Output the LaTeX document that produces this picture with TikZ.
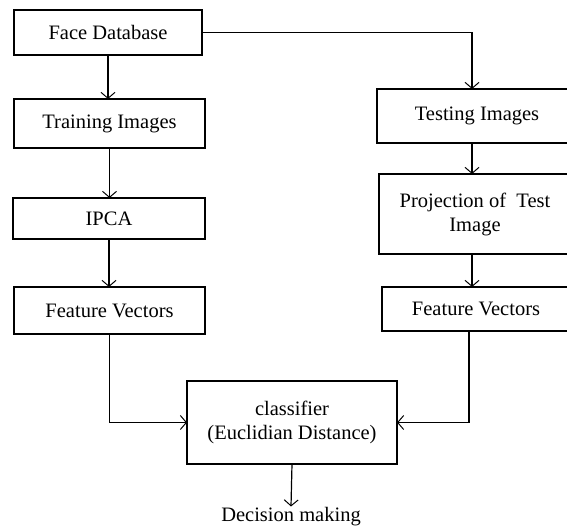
\documentclass[tikz,border=0pt]{standalone}
\usepackage{fontspec}
\setmainfont{Liberation Serif}
\usetikzlibrary{arrows.meta}
\usetikzlibrary{positioning}

\tikzset{
    blockbox/.style={draw, line width=1.2pt, rectangle, inner sep=0pt, outer sep=0pt,
        align=center, font=\fontsize{20.5}{24}\selectfont},
    flowline/.style={line width=1.2pt, -{Straight Barb[length=6pt,width=14pt,line width=1pt]}}
}

\begin{document}
\begin{tikzpicture}[x=1pt, y=1pt]
            % Page
            \useasboundingbox (0,0) rectangle (567,-529);
            \clip (0,0) rectangle (567,-529);
            
            % Training side
            \node[blockbox, minimum width=188pt, minimum height=45pt] (facedb) at (108,-32.5) {Face Database};
            \node[blockbox, minimum width=191pt, minimum height=49pt] (train) at (109.5,-123.5) {Training Images};
            \node[blockbox, minimum width=192pt, minimum height=41pt] (ipca) at (109,-218.5) {IPCA};
            \node[blockbox, minimum width=191pt, minimum height=47pt] (featL) at (109.5,-310.5) {Feature Vectors};
            
            % Testing side
            \node[blockbox, minimum width=200pt, minimum height=54pt] (test) at (477,-116) {Testing Images};
            \node[blockbox, minimum width=192pt, minimum height=80pt] (proj) at (475,-214) {Projection of\ \ Test\\Image};
            \node[blockbox, minimum width=188pt, minimum height=44pt] (featR) at (476,-309) {Feature Vectors};
            
            % Classifier
            \node[blockbox, minimum width=210pt, minimum height=83pt] (clf) at (292,-422.5) {classifier\\(Euclidian Distance)};
            \node[font=\fontsize{20.5}{24}\selectfont, inner sep=1pt] (decision) at (291,-517) {Decision making};
            
            % Arrows
            \draw[flowline] (facedb.south) -- (facedb.south |- train.north);
            \draw[flowline] (train.south) -- (train.south |- ipca.north);
            \draw[flowline] (ipca.south) -- (ipca.south |- featL.north);
            \draw[flowline] (facedb.east) -| ([xshift=-5pt]test.north);
            \draw[flowline] ([xshift=-5pt]test.south) -- ([xshift=-3pt]proj.north);
            \draw[flowline] ([xshift=-3pt]proj.south) -- ([xshift=-4pt]featR.north);
            \draw[flowline] (featL.south) |- (clf.west);
            \draw[flowline] ([xshift=-7pt]featR.south) |- (clf.east);
            \draw[flowline] (clf.south) -- (decision.north);
            
        \end{tikzpicture}
\end{document}
